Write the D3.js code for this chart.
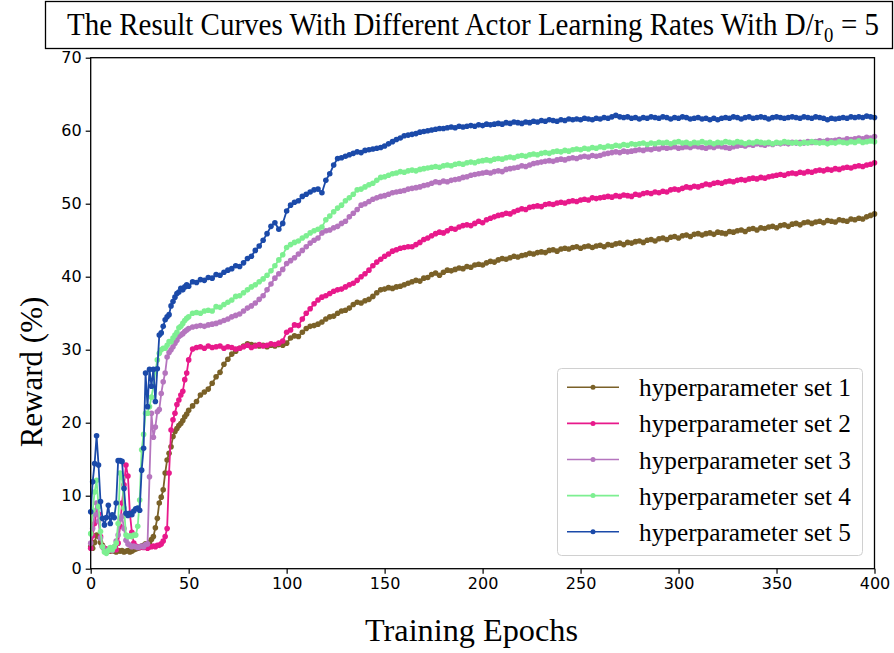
<!DOCTYPE html>
<html><head><meta charset="utf-8">
<script src="https://cdn.jsdelivr.net/npm/d3@7"></script>
<style>body{margin:0;background:#fff}</style></head>
<body><svg id="chart" width="894" height="653"></svg>
<script>
// epochs: every epoch for 0..50, then every 2nd epoch to 400
const epochs = d3.range(0, 51).concat(d3.range(52, 401, 2));

const set1 = [
3.0, 2.8, 3.6, 4.6, 4.4, 3.6, 3.2, 2.8, 2.6, 2.5,
2.4, 2.5, 2.4, 2.3, 2.5, 2.4, 2.5, 2.3, 2.4, 2.5,
2.3, 2.4, 2.6, 2.7, 2.8, 2.9, 3.1, 3.2, 3.4, 3.3,
3.6, 4.0, 4.4, 5.6, 6.9, 9.0, 9.8, 10.8, 13.1, 14.9,
15.8, 16.7, 18.1, 18.8, 19.2, 19.6, 19.9, 20.3, 20.8, 21.2,
21.7,
22.3, 22.9, 23.8, 24.2, 24.6, 25.4, 26.3, 26.9, 28.0, 28.7,
29.4, 29.8, 30.2, 30.5, 30.8, 30.7, 30.6, 30.5, 30.6, 30.4,
30.6, 30.5, 30.7, 30.6, 30.9, 31.6, 31.9, 31.8, 32.4, 32.9,
33.2, 33.3, 33.5, 33.8, 34.2, 34.5, 34.6, 35.0, 35.3, 35.4,
35.7, 36.2, 36.5, 36.4, 36.7, 36.9, 37.3, 37.8, 38.2, 38.3,
38.5, 38.4, 38.6, 38.7, 38.9, 39.1, 39.3, 39.5, 39.4, 39.8,
39.9, 40.3, 40.5, 40.2, 40.6, 40.9, 40.8, 41.0, 41.2, 41.1,
41.4, 41.3, 41.6, 41.7, 41.6, 41.9, 42.1, 42.0, 42.3, 42.5,
42.4, 42.6, 42.8, 42.7, 42.9, 43.0, 43.2, 43.1, 43.3, 43.4,
43.3, 43.6, 43.7, 43.5, 43.8, 43.9, 43.8, 44.0, 44.1, 43.9,
44.1, 44.2, 44.0, 44.2, 44.3, 44.1, 44.4, 44.3, 44.5, 44.6,
44.4, 44.7, 44.6, 44.8, 44.9, 44.7, 45.0, 45.1, 44.9, 45.2,
45.3, 45.1, 45.4, 45.5, 45.3, 45.6, 45.7, 45.5, 45.8, 45.9,
45.7, 45.9, 46.0, 45.8, 46.1, 46.0, 45.9, 46.2, 46.1, 46.3,
46.4, 46.2, 46.5, 46.6, 46.4, 46.7, 46.6, 46.8, 46.9, 46.7,
47.0, 47.1, 46.9, 47.2, 47.3, 47.1, 47.4, 47.5, 47.3, 47.5,
47.6, 47.4, 47.7, 47.6, 47.5, 47.8, 47.7, 47.6, 47.9, 47.8,
48.0, 47.9, 48.2, 48.4, 48.6];

const set2 = [
2.8, 4.5, 6.2, 7.8, 7.5, 4.4, 3.0, 2.8, 2.6, 2.7,
2.5, 2.6, 2.8, 2.6, 3.5, 5.8, 9.0, 11.5, 14.2, 12.7,
7.6, 5.0, 3.5, 3.1, 3.0, 2.9, 3.0, 2.9, 3.0, 2.8,
3.0, 3.0, 3.1, 3.0, 3.2, 3.2, 3.4, 3.8, 4.4, 5.5,
13.1, 19.0, 20.4, 21.3, 22.5, 23.1, 23.8, 24.3, 25.9, 26.8,
28.6,
30.1, 30.3, 30.4, 30.2, 30.5, 30.3, 30.4, 30.5, 30.2, 30.4,
30.3, 30.1, 30.2, 30.4, 30.6, 30.3, 30.5, 30.7, 30.5, 30.6,
30.8, 30.7, 30.9, 31.2, 32.4, 32.7, 33.4, 33.3, 34.2, 35.0,
35.6, 36.3, 36.8, 37.2, 37.4, 37.7, 38.0, 38.2, 38.3, 38.6,
38.9, 39.1, 39.5, 40.0, 40.4, 40.9, 41.5, 42.0, 42.4, 42.8,
43.1, 43.5, 43.7, 43.9, 44.0, 44.1, 44.1, 44.4, 44.7, 45.1,
45.3, 45.6, 45.9, 46.1, 46.0, 46.3, 46.6, 46.5, 46.8, 47.0,
47.1, 47.0, 47.3, 47.6, 47.4, 47.8, 48.0, 48.2, 48.4, 48.5,
48.7, 48.6, 48.9, 49.1, 49.3, 49.2, 49.5, 49.6, 49.7, 49.6,
49.9, 50.0, 49.9, 50.1, 50.2, 50.1, 50.3, 50.4, 50.3, 50.5,
50.6, 50.5, 50.8, 50.7, 50.8, 50.9, 51.0, 50.9, 51.1, 51.0,
51.2, 51.1, 51.0, 51.3, 51.2, 51.4, 51.5, 51.4, 51.6, 51.5,
51.7, 51.6, 51.9, 52.0, 51.9, 52.1, 52.3, 52.2, 52.4, 52.3,
52.5, 52.7, 52.6, 52.8, 52.9, 52.8, 53.0, 53.1, 53.0, 53.2,
53.3, 53.2, 53.4, 53.5, 53.4, 53.6, 53.5, 53.7, 53.8, 53.9,
54.0, 53.9, 54.1, 54.2, 54.1, 54.3, 54.2, 54.4, 54.3, 54.5,
54.6, 54.5, 54.7, 54.6, 54.8, 54.7, 54.9, 55.0, 54.9, 55.1,
55.2, 55.1, 55.3, 55.4, 55.6];

const set3 = [
3.5, 5.5, 7.5, 9.0, 6.5, 4.2, 3.0, 2.6, 2.4, 2.6,
2.8, 2.5, 3.0, 3.8, 4.6, 6.8, 7.2, 5.5, 3.9, 3.4,
3.2, 3.0, 3.1, 3.0, 2.9, 3.0, 3.1, 3.0, 3.3, 3.4,
12.6, 21.3, 18.0, 19.4, 21.5, 21.8, 24.0, 25.6, 26.8, 29.0,
29.6, 30.0, 30.4, 30.9, 31.3, 31.8, 32.0, 32.2, 32.5, 32.7,
32.9,
33.1, 33.2, 33.3, 33.2, 33.4, 33.5, 33.6, 33.8, 34.0, 34.2,
34.5, 34.7, 34.9, 35.3, 35.7, 36.0, 36.4, 36.9, 37.4, 38.2,
39.0, 39.8, 40.4, 41.0, 41.8, 42.2, 42.6, 43.1, 43.6, 44.1,
44.6, 45.0, 45.3, 46.0, 46.3, 46.4, 46.7, 46.9, 47.3, 47.6,
48.2, 48.7, 49.2, 49.8, 50.0, 50.3, 50.6, 50.8, 51.0, 51.1,
51.3, 51.5, 51.6, 51.7, 51.8, 52.0, 52.1, 52.2, 52.3, 52.5,
52.6, 52.8, 53.0, 52.9, 53.1, 53.0, 53.2, 53.3, 53.4, 53.6,
53.7, 53.9, 54.0, 54.1, 54.2, 54.3, 54.2, 54.4, 54.5, 54.4,
54.7, 54.8, 54.9, 55.0, 55.2, 55.1, 55.3, 55.5, 55.6, 55.7,
55.8, 55.9, 55.8, 56.0, 56.1, 56.0, 56.2, 56.3, 56.2, 56.4,
56.5, 56.4, 56.6, 56.5, 56.6, 56.8, 56.9, 57.0, 57.1, 57.0,
57.2, 57.1, 57.2, 57.3, 57.4, 57.3, 57.5, 57.4, 57.6, 57.5,
57.7, 57.6, 57.7, 57.8, 57.6, 57.7, 57.8, 57.7, 57.9, 57.8,
57.7, 57.6, 57.8, 57.7, 57.9, 57.8, 57.7, 57.6, 57.8, 57.9,
58.0, 57.9, 58.1, 58.0, 58.2, 58.1, 58.0, 58.2, 58.1, 58.3,
58.2, 58.3, 58.2, 58.4, 58.3, 58.4, 58.3, 58.5, 58.4, 58.5,
58.6, 58.5, 58.7, 58.6, 58.7, 58.8, 58.7, 58.9, 58.8, 58.9,
59.0, 58.9, 59.1, 59.0, 59.2];

const set4 = [
4.8, 8.0, 10.5, 12.1, 8.5, 5.1, 3.0, 2.3, 2.1, 2.5,
2.9, 2.6, 3.0, 3.5, 6.2, 13.1, 12.5, 8.3, 4.6, 4.4,
4.5, 4.4, 4.6, 4.6, 5.8, 9.4, 16.3, 18.4, 21.3, 21.3,
22.2, 23.5, 25.0, 27.0, 28.6, 29.5, 30.0, 30.2, 30.2, 30.6,
31.1, 31.1, 31.6, 32.0, 32.4, 33.0, 33.2, 33.6, 34.0, 34.3,
34.5,
35.0, 35.1, 35.0, 35.3, 35.4, 35.3, 35.9, 35.8, 36.2, 36.5,
36.8, 37.3, 37.4, 37.8, 38.2, 38.6, 38.9, 39.3, 39.7, 40.2,
40.8, 41.5, 42.3, 43.0, 44.0, 44.4, 44.7, 44.9, 45.3, 45.6,
46.0, 46.3, 46.5, 46.8, 47.8, 48.3, 48.9, 49.4, 49.8, 50.4,
50.8, 51.3, 51.9, 52.0, 52.3, 52.6, 52.8, 53.2, 53.6, 53.7,
53.9, 54.1, 54.2, 54.4, 54.3, 54.5, 54.6, 54.5, 54.7, 54.8,
54.9, 55.0, 55.1, 55.0, 55.2, 55.3, 55.2, 55.4, 55.5, 55.4,
55.6, 55.7, 55.6, 55.8, 55.9, 56.0, 55.9, 56.1, 56.2, 56.1,
56.3, 56.4, 56.3, 56.5, 56.6, 56.5, 56.7, 56.8, 56.7, 56.9,
57.0, 56.9, 57.1, 57.2, 57.1, 57.3, 57.2, 57.4, 57.5, 57.4,
57.6, 57.5, 57.7, 57.6, 57.8, 57.7, 57.9, 57.8, 58.0, 57.9,
58.1, 58.0, 58.2, 58.1, 58.2, 58.3, 58.1, 58.3, 58.2, 58.4,
58.3, 58.4, 58.2, 58.4, 58.5, 58.3, 58.4, 58.2, 58.4, 58.3,
58.5, 58.3, 58.4, 58.2, 58.4, 58.3, 58.5, 58.4, 58.3, 58.5,
58.4, 58.2, 58.4, 58.3, 58.5, 58.4, 58.3, 58.4, 58.2, 58.4,
58.3, 58.5, 58.4, 58.3, 58.4, 58.2, 58.4, 58.3, 58.5, 58.4,
58.3, 58.4, 58.2, 58.4, 58.3, 58.5, 58.4, 58.3, 58.5, 58.4,
58.6, 58.4, 58.5, 58.6, 58.5];

const set5 = [
7.8, 11.9, 14.4, 18.2, 14.2, 9.2, 6.9, 6.0, 7.0, 8.7,
6.2, 7.4, 7.0, 9.0, 14.8, 14.8, 14.7, 11.0, 7.6, 7.3,
7.6, 7.4, 7.9, 8.2, 8.3, 8.0, 13.5, 16.5, 26.8, 22.2,
27.3, 25.0, 27.3, 22.9, 27.4, 32.0, 32.3, 33.2, 34.1, 34.5,
34.8, 36.0, 36.6, 37.2, 37.7, 37.9, 38.4, 38.2, 38.6, 38.9,
38.7,
39.3, 39.2, 39.6, 39.5, 39.9, 39.8, 40.3, 40.2, 40.6, 40.9,
41.1, 41.5, 41.4, 41.9, 42.5, 42.8, 43.6, 44.2, 45.0, 45.9,
46.9, 47.4, 46.5, 47.3, 49.0, 49.8, 50.2, 50.4, 51.0, 51.3,
51.6, 51.9, 52.0, 51.5, 53.2, 54.1, 55.3, 56.2, 56.3, 56.5,
56.7, 56.9, 57.1, 57.0, 57.3, 57.4, 57.5, 57.6, 57.7, 57.9,
58.2, 58.5, 58.8, 59.0, 59.3, 59.4, 59.5, 59.6, 59.8, 59.9,
60.0, 60.1, 60.2, 60.3, 60.3, 60.4, 60.5, 60.4, 60.6, 60.5,
60.6, 60.7, 60.6, 60.8, 60.7, 60.9, 60.8, 60.9, 61.0, 60.9,
61.1, 61.0, 61.2, 61.1, 61.0, 61.2, 61.1, 61.3, 61.2, 61.4,
61.3, 61.5, 61.4, 61.3, 61.5, 61.4, 61.6, 61.5, 61.6, 61.5,
61.7, 61.6, 61.5, 61.7, 61.6, 61.8, 61.7, 61.9, 62.1, 61.9,
61.8, 61.9, 61.7, 61.8, 61.6, 61.8, 61.7, 61.9, 61.8, 61.7,
61.9, 61.8, 61.6, 61.8, 61.7, 61.9, 61.8, 61.6, 61.7, 61.8,
61.6, 61.7, 61.5, 61.7, 61.5, 61.7, 61.8, 61.7, 61.9, 61.8,
61.6, 61.8, 61.9, 61.7, 61.8, 61.9, 61.8, 61.6, 61.8, 61.9,
61.8, 61.7, 61.8, 61.9, 61.8, 61.7, 61.9, 61.8, 61.7, 61.9,
61.8, 61.7, 61.5, 61.7, 61.6, 61.7, 61.8, 61.7, 61.9, 61.8,
61.9, 61.8, 62.0, 61.9, 61.8];

const seriesNames = ["hyperparameter set 1", "hyperparameter set 2", "hyperparameter set 3",
                     "hyperparameter set 4", "hyperparameter set 5"];
const seriesColors = ["#7a6128", "#e8198b", "#b575be", "#7def91", "#1b4aa9"];
const seriesValues = [set1, set2, set3, set4, set5];
const xTicks = [0, 50, 100, 150, 200, 250, 300, 350, 400];
const yTicks = [0, 10, 20, 30, 40, 50, 60, 70];

const svg = d3.select("#chart");
const L = 90.7, R = 874.5, T = 57.7, B = 568.7;
const x = d3.scaleLinear().domain([0, 400]).range([L, R]);
const y = d3.scaleLinear().domain([0, 70]).range([B, T]);
const serif = "'Liberation Serif','Times New Roman',serif";

// title box
svg.append("rect").attr("x", 45.5).attr("y", 1.5).attr("width", 847).attr("height", 47)
  .attr("fill", "#fff").attr("stroke", "#000").attr("stroke-width", 1.3);
// title pieces laid out one after another, then squeezed horizontally to the reference width
const tg = svg.append("g");
const t1 = tg.append("text").attr("x", 0).attr("y", 0)
  .attr("font-family", serif).attr("font-size", 31)
  .text("The Result Curves With Different Actor Learning Rates With D/r");
const w1 = t1.node().getComputedTextLength();
const t2 = tg.append("text").attr("x", w1 + 0.5).attr("y", 7)
  .attr("font-family", serif).attr("font-size", 20).text("0");
const w2 = t2.node().getComputedTextLength();
const t3 = tg.append("text").attr("x", w1 + 0.5 + w2 + 8).attr("y", 0)
  .attr("font-family", serif).attr("font-size", 31).text("= 5");
const w3 = t3.node().getComputedTextLength();
const sx = 812 / (w1 + 0.5 + w2 + 8 + w3);
tg.attr("transform", `translate(67,35) scale(${sx},1)`);

// axes
const xAxis = d3.axisBottom(x).tickValues(xTicks).tickSize(5).tickPadding(4).tickFormat(d3.format("d"));
const yAxis = d3.axisLeft(y).tickValues(yTicks).tickSize(5).tickPadding(4).tickFormat(d3.format("d"));
const gx = svg.append("g").attr("transform", `translate(0,${B})`).call(xAxis);
const gy = svg.append("g").attr("transform", `translate(${L},0)`).call(yAxis);
[gx, gy].forEach(g => {
  g.select(".domain").remove();
  g.selectAll(".tick line").attr("stroke", "#000").attr("stroke-width", 1.2);
  g.selectAll(".tick text").attr("font-family", "'DejaVu Sans',sans-serif").attr("font-size", 16).attr("fill", "#000");
});

// data lines
const line = d3.line().x(d => x(d[0])).y(d => y(d[1]));
seriesValues.forEach((vals, i) => {
  const pts = epochs.map((e, k) => [e, vals[k]]).filter(p => p[1] !== undefined);
  const g = svg.append("g");
  g.append("path").datum(pts).attr("d", line).attr("fill", "none")
    .attr("stroke", seriesColors[i]).attr("stroke-width", 1.8);
  g.selectAll("circle").data(pts).join("circle")
    .attr("cx", d => x(d[0])).attr("cy", d => y(d[1])).attr("r", 2.8)
    .attr("fill", seriesColors[i]);
});

// frame
svg.append("rect").attr("x", L).attr("y", T).attr("width", R - L).attr("height", B - T)
  .attr("fill", "none").attr("stroke", "#000").attr("stroke-width", 1.3);

// axis labels
svg.append("text").attr("x", 471.5).attr("y", 641).attr("text-anchor", "middle")
  .attr("font-family", serif).attr("font-size", 31)
  .attr("textLength", 213).attr("lengthAdjust", "spacingAndGlyphs")
  .text("Training Epochs");
svg.append("text").attr("transform", "translate(42,372) rotate(-90)")
  .attr("text-anchor", "middle")
  .attr("font-family", serif).attr("font-size", 31)
  .text("Reward (%)");

// legend
const lg = svg.append("g");
lg.append("rect").attr("x", 557.5).attr("y", 368.5).attr("width", 305).attr("height", 187)
  .attr("rx", 4).attr("fill", "#fff").attr("fill-opacity", 0.85).attr("stroke", "#d0d0d0");
seriesNames.forEach((name, i) => {
  const cy = 387.3 + i * 36.1;
  lg.append("line").attr("x1", 567).attr("x2", 619).attr("y1", cy).attr("y2", cy)
    .attr("stroke", seriesColors[i]).attr("stroke-width", 1.6);
  lg.append("circle").attr("cx", 593).attr("cy", cy).attr("r", 2.5).attr("fill", seriesColors[i]);
  lg.append("text").attr("x", 639).attr("y", cy + 9)
    .attr("font-family", serif).attr("font-size", 25)
    .attr("textLength", 212).attr("lengthAdjust", "spacingAndGlyphs").text(name);
});
</script></body></html>
